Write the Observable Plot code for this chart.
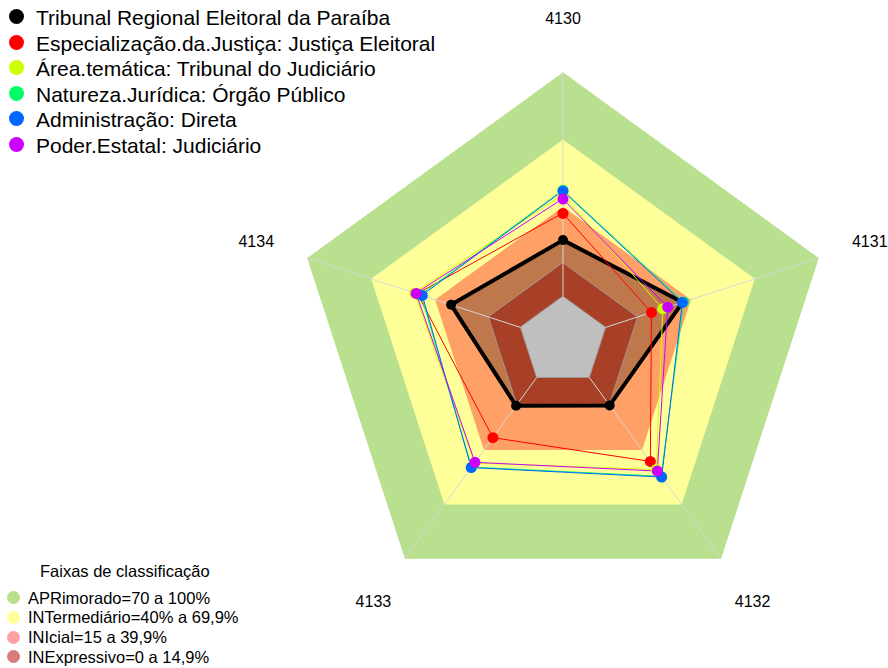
<!DOCTYPE html>
<html><head><meta charset="utf-8">
<script src="https://cdn.jsdelivr.net/npm/d3@7"></script>
<script src="https://cdn.jsdelivr.net/npm/@observablehq/plot@0.6"></script>
<style>
body{margin:0;background:#fff;font-family:"Liberation Sans",Arial,sans-serif;}
#wrap{position:relative;width:888px;height:668px;overflow:hidden;}
#wrap svg{position:absolute;left:0;top:0;}
.lg{position:absolute;white-space:nowrap;color:#000;}
.sw{position:absolute;border-radius:50%;}
</style></head><body><div id="wrap"></div>
<script>
// ---- data ----
const axes = ["4130", "4131", "4132", "4133", "4134"];
const seriesNames = [
  "Tribunal Regional Eleitoral da Paraíba",
  "Especialização.da.Justiça: Justiça Eleitoral",
  "Área.temática: Tribunal do Judiciário",
  "Natureza.Jurídica: Órgão Público",
  "Administração: Direta",
  "Poder.Estatal: Judiciário"
];
const seriesColors = ["#000000", "#FF0000", "#CCFF00", "#00FF66", "#0066FF", "#CC00FF"];
const tribunal       = [25.1, 36.1, 15.4, 15.6, 32.5];
const especializacao = [37.0, 21.5, 46.3, 33.2, 48.2];
const areaTematica   = [45.2, 26.8, 50.8, 47.2, 49.6];
const natureza       = [47.3, 36.6, 54.5, 49.4, 46.6];
const administracao  = [47.0, 36.0, 54.9, 49.7, 46.0];
const poderEstatal   = [43.4, 29.1, 51.6, 46.8, 48.9];
const seriesValues = [tribunal, especializacao, areaTematica, natureza, administracao, poderEstatal];

const bandLevels = [100, 70, 40, 15, 0];
const bandFill = ["#B9E08E", "#FFFF99", "#FFA066", "#E05535", "#FFFFFF"];
const outlineLevels = [15, 0];
const bandTitle = "Faixas de classificação";
const bandNames = ["APRimorado=70 a 100%", "INTermediário=40% a 69,9%", "INIcial=15 a 39,9%", "INExpressivo=0 a 14,9%"];
const bandLegendColors = ["#B9E08C", "#FFFF99", "#FFA0A0", "#D67C7C"];

// ---- polar helpers (value -> latitude, axis index -> longitude) ----
const lon = (i) => 180 - 72 * i;
const lat = (v) => 90 - (v + 20) * 0.5;

const ring = (level) => axes.map((a, i) => ({axis: a, lon: lon(i), lat: lat(level)}));
const seriesPts = (vals) => vals.map((v, i) => ({axis: axes[i], value: v, lon: lon(i), lat: lat(v)}));

const marks = [];
bandLevels.forEach((L, k) => {
  marks.push(Plot.line(ring(L), {x: "lon", y: "lat", fill: bandFill[k], stroke: "none", curve: "linear-closed"}));
});
outlineLevels.forEach((L) => {
  marks.push(Plot.line(ring(L), {x: "lon", y: "lat", fill: "none", stroke: "#d4d4d4", strokeWidth: 0.8, curve: "linear-closed"}));
});
// filled main series overlay
marks.push(Plot.line(seriesPts(tribunal), {x: "lon", y: "lat", fill: "black", fillOpacity: 0.25, stroke: "none", curve: "linear-closed"}));
// spokes
marks.push(Plot.link(axes, {x1: (d, i) => lon(i), y1: lat(0), x2: (d, i) => lon(i), y2: lat(100), stroke: "#d6d6d6", strokeWidth: 1}));
// axis labels
marks.push(Plot.text(axes, {x: (d, i) => lon(i), y: lat(123.9), text: (d) => d, fontSize: 16, fill: "black", fontFamily: "Liberation Sans, Arial, sans-serif"}));
// series lines and dots
seriesValues.forEach((vals, s) => {
  marks.push(Plot.line(seriesPts(vals), {x: "lon", y: "lat", stroke: seriesColors[s], strokeWidth: s === 0 ? 4 : 1, strokeLinejoin: "round", fill: "none", curve: "linear-closed"}));
});
seriesValues.forEach((vals, s) => {
  marks.push(Plot.dot(seriesPts(vals), {x: "lon", y: "lat", fill: seriesColors[s], stroke: "none", r: s === 0 ? 5 : 5.5}));
});

const chart = Plot.plot({
  width: 888,
  height: 668,
  marginTop: 15.7,
  marginLeft: 237.5,
  marginRight: 0.5,
  marginBottom: 2.3,
  projection: {
    type: "azimuthal-equidistant",
    rotate: [0, -90],
    domain: d3.geoCircle().center([0, 90]).radius(72.5)()
  },
  style: {fontFamily: "Liberation Sans, Arial, sans-serif", background: "white"},
  marks
});
const wrap = document.getElementById("wrap");
wrap.appendChild(chart);

// ---- legends (HTML overlay) ----
function addRow(cx, cy, r, color, text, tx, fs, lh, baselineOff) {
  if (color) {
    const sw = document.createElement("div");
    sw.className = "sw";
    sw.style.left = (cx - r) + "px"; sw.style.top = (cy - r) + "px";
    sw.style.width = (2 * r) + "px"; sw.style.height = (2 * r) + "px";
    sw.style.background = color;
    wrap.appendChild(sw);
  }
  const t = document.createElement("div");
  t.className = "lg";
  t.textContent = text;
  t.style.left = tx + "px";
  t.style.fontSize = fs + "px";
  t.style.lineHeight = lh + "px";
  t.style.top = (cy - baselineOff) + "px";
  wrap.appendChild(t);
}
seriesNames.forEach((n, i) => {
  addRow(16, 16.7 + 25.5 * i, 7.5, seriesColors[i], n, 36, 21, 25, 11.5);
});
addRow(0, 571.7, 0, null, bandTitle, 40, 16.5, 20, 10.7);
bandNames.forEach((n, i) => {
  addRow(13, 597.7 + 19.7 * i, 6.5, bandLegendColors[i], n, 28, 16.5, 20, 10.1);
});
</script></body></html>
